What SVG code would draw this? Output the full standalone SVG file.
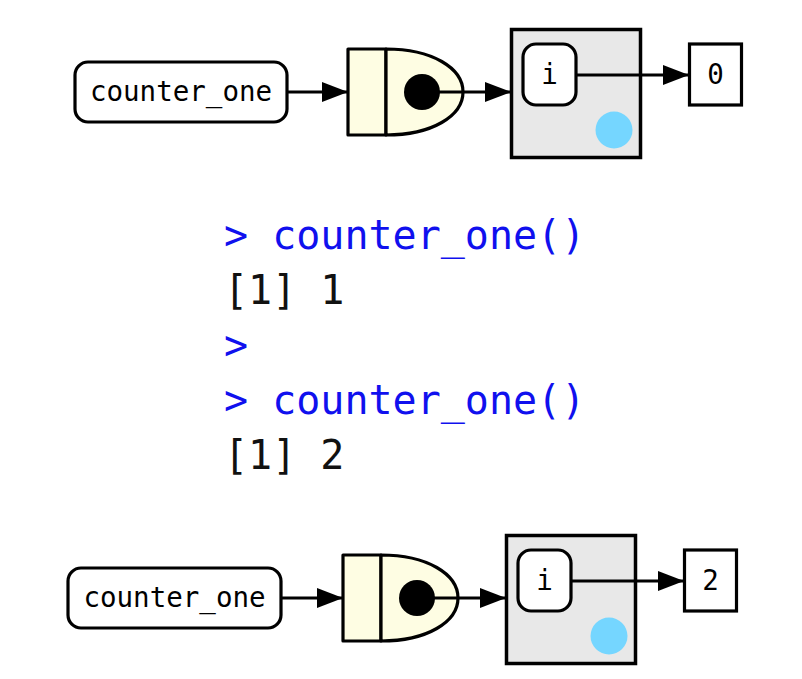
<svg xmlns="http://www.w3.org/2000/svg" width="802" height="679" viewBox="0 0 802 679">
  <defs>
    <marker id="arrow" markerUnits="userSpaceOnUse" markerWidth="26" markerHeight="22" refX="25" refY="11" orient="auto">
      <path d="M0,1 L26,11 L0,21 Z" fill="#000"/>
    </marker>
    <style>
      .name { fill: #fff; stroke: #000; stroke-width: 3.2; }
      .fn { fill: #fefde3; stroke: #000; stroke-width: 3.2; stroke-linejoin: round; }
      .env { fill: #e8e8e8; stroke: #000; stroke-width: 3.5; }
      .val { fill: #fff; stroke: #000; stroke-width: 3.2; }
      .dot { fill: #000; }
      .parent { fill: #75d6ff; }
      .link { stroke: #000; stroke-width: 3; fill: none; marker-end: url(#arrow); }
      .label { font-family: "DejaVu Sans Mono", monospace; font-size: 27.5px; fill: #000; text-anchor: middle; }
      .code { font-family: "DejaVu Sans Mono", monospace; font-size: 40px; }
      .in { fill: #1010ee; }
      .out { fill: #111; }
    </style>
  </defs>

  <!-- state before the calls -->
  <g id="binding-before">
    <rect class="name" x="75" y="62" width="212" height="60" rx="13"/>
    <text class="label" x="181" y="101">counter_one</text>
  </g>
  <g id="function-before">
    <rect class="fn" x="348" y="49" width="38" height="86"/>
    <path class="fn" d="M386,49 C432,49 463,68 463,92 C463,116 432,135 386,135 Z"/>
    <circle class="dot" cx="422" cy="92" r="18"/>
  </g>
  <g id="env-before">
    <rect class="env" x="511.5" y="29.5" width="129" height="128"/>
    <circle class="parent" cx="614" cy="130" r="18.5"/>
    <g id="var-i-before">
      <rect class="name" x="523" y="44" width="53" height="61" rx="13"/>
      <text class="label" x="549.5" y="84">i</text>
    </g>
  </g>
  <g id="value-before">
    <rect class="val" x="689.5" y="44" width="52" height="61"/>
    <text class="label" x="715.5" y="84">0</text>
  </g>

  <!-- console session -->
  <g id="console">
    <text class="code in" x="224" y="249">&gt; counter_one()</text>
    <text class="code out" x="224" y="304">[1] 1</text>
    <text class="code in" x="224" y="359">&gt;</text>
    <text class="code in" x="224" y="414">&gt; counter_one()</text>
    <text class="code out" x="224" y="469">[1] 2</text>
  </g>

  <!-- state after the calls -->
  <g id="binding-after">
    <rect class="name" x="68" y="568" width="213" height="60" rx="13"/>
    <text class="label" x="174.5" y="607">counter_one</text>
  </g>
  <g id="function-after">
    <rect class="fn" x="343" y="555" width="38" height="86"/>
    <path class="fn" d="M381,555 C427,555 458,574 458,598 C458,622 427,641 381,641 Z"/>
    <circle class="dot" cx="417" cy="598" r="18"/>
  </g>
  <g id="env-after">
    <rect class="env" x="506.5" y="535.5" width="129" height="128"/>
    <circle class="parent" cx="609" cy="636" r="18.5"/>
    <g id="var-i-after">
      <rect class="name" x="518" y="550" width="53" height="61" rx="13"/>
      <text class="label" x="544.5" y="590">i</text>
    </g>
  </g>
  <g id="value-after">
    <rect class="val" x="684.5" y="550" width="52" height="61"/>
    <text class="label" x="710.5" y="590">2</text>
  </g>

  <!-- connectors -->
  <g id="connectors">
    <line class="link" x1="288" y1="92" x2="347" y2="92"/>
    <line class="link" x1="422" y1="92" x2="510" y2="92"/>
    <line class="link" x1="577" y1="75" x2="688" y2="75"/>
    <line class="link" x1="282" y1="598" x2="342" y2="598"/>
    <line class="link" x1="417" y1="598" x2="505" y2="598"/>
    <line class="link" x1="572" y1="581" x2="683" y2="581"/>
  </g>
</svg>
